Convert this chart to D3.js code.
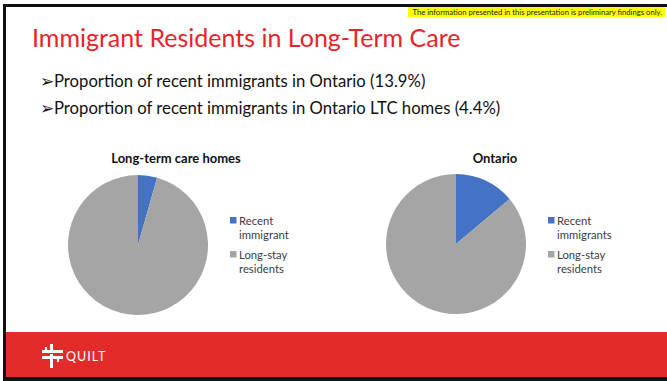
<!DOCTYPE html>
<html>
<head>
<meta charset="utf-8">
<script src="https://cdn.jsdelivr.net/npm/d3@7.9.0/dist/d3.min.js"></script>
<style>
  html, body { margin: 0; padding: 0; background: #fff; }
  svg { display: block; font-family: Lato, "Open Sans", sans-serif; }
</style>
</head>
<body>
<svg id="slide" width="667" height="381"></svg>
<script>
// data
const categoriesLtc = ["Recent immigrant", "Long-stay residents"];
const categoriesOnt = ["Recent immigrants", "Long-stay residents"];
const valuesLtc = [4.4, 95.6];
const valuesOnt = [13.9, 86.1];
const bullets = [
  "Proportion of recent immigrants in Ontario (13.9%)",
  "Proportion of recent immigrants in Ontario LTC homes (4.4%)"
];

const svg = d3.select('#slide');
const colors = d3.scaleOrdinal().domain([0, 1]).range(['#4472C4', '#A5A5A5']);

// slide frame
svg.append('rect').attr('x', 3).attr('y', 4).attr('width', 664).attr('height', 3).attr('fill', '#111');
svg.append('rect').attr('x', 3).attr('y', 4).attr('width', 3).attr('height', 377).attr('fill', '#111');
svg.append('rect').attr('x', 6).attr('y', 332).attr('width', 661).attr('height', 45).attr('fill', '#E32B2B');
svg.append('rect').attr('x', 3).attr('y', 377).attr('width', 664).attr('height', 4).attr('fill', '#111');

// disclaimer
svg.append('rect').attr('x', 408).attr('y', 7).attr('width', 257).attr('height', 10).attr('fill', '#FFFF00');
svg.append('text').attr('x', 662).attr('y', 15).attr('text-anchor', 'end')
  .attr('font-size', 7.7).attr('fill', '#222')
  .text('The information presented in this presentation is preliminary findings only.');

// title
svg.append('text').attr('x', 32).attr('y', 47).attr('font-size', 25).attr('fill', '#E8242B')
  .text('Immigrant Residents in Long-Term Care');

svg.selectAll('text.bullet')
  .data(bullets)
  .join('text')
  .attr('class', 'bullet')
  .attr('x', 40)
  .attr('y', (d, i) => 87 + i * 27)
  .attr('font-size', 16.7)
  .attr('fill', '#111')
  .text(d => '\u27A2' + d);

// pies
let arcGenerator = d3.arc().innerRadius(0).outerRadius(70);
let sliceGenerator = d3.pie().sort(null);

function drawPie(cx, cy, title, titleX, values, labels, legendX) {
  let g = svg.append('g').attr('transform', `translate(${cx},${cy})`);
  g.selectAll('path')
    .data(sliceGenerator(values))
    .join('path')
    .attr('d', d => arcGenerator(d))
    .attr('fill', (d, i) => colors(i));

  svg.append('text').attr('x', titleX).attr('y', 163).attr('text-anchor', 'middle')
    .attr('font-size', 13).attr('font-weight', 'bold').attr('fill', '#111')
    .text(title);

  let leg = svg.append('g').attr('transform', `translate(${legendX},217)`);
  let items = leg.selectAll('g').data(labels).join('g')
    .attr('transform', (d, i) => `translate(0,${i * 34})`);
  items.append('rect').attr('width', 6.5).attr('height', 6.5).attr('fill', (d, i) => colors(i));
  items.append('text').attr('x', 9).attr('y', 8).attr('font-size', 11.3).attr('fill', '#404040')
    .text(d => d.split(' ')[0]);
  items.append('text').attr('x', 9).attr('y', 22).attr('font-size', 11.3).attr('fill', '#404040')
    .text(d => d.split(' ').slice(1).join(' '));
}

drawPie(138, 245, 'Long-term care homes', 176, valuesLtc, categoriesLtc, 230);
drawPie(456, 244, 'Ontario', 495, valuesOnt, categoriesOnt, 548);

// logo
const logo = svg.append('g').attr('fill', '#fff');
[[50, 344, 3, 7], [50, 354, 3, 14], [42, 350, 21, 3], [42, 356, 21, 3], [45, 347, 2, 3], [57, 359, 2, 3]]
  .forEach(r => logo.append('rect').attr('x', r[0]).attr('y', r[1]).attr('width', r[2]).attr('height', r[3]));
svg.append('text').attr('x', 66).attr('y', 361).attr('font-size', 12.5).attr('letter-spacing', 1)
  .attr('fill', '#fff').text('QUILT');
</script>
</body>
</html>
